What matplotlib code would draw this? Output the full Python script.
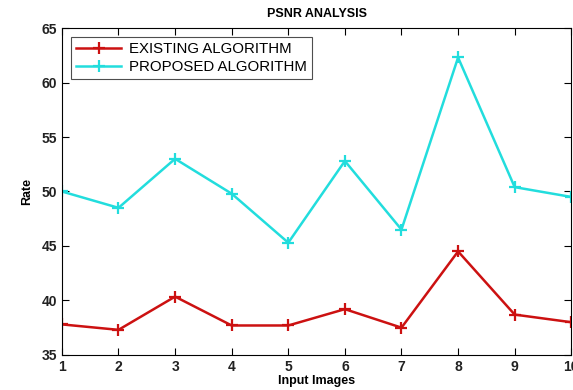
import matplotlib
matplotlib.use('Agg')
import matplotlib.pyplot as plt

plt.rcParams['font.family'] = ['Liberation Sans', 'DejaVu Sans']

images = [1, 2, 3, 4, 5, 6, 7, 8, 9, 10]
existing = [37.8, 37.3, 40.35, 37.7, 37.7, 39.2, 37.5, 44.5, 38.7, 38.0]
proposed = [50.0, 48.5, 53.0, 49.8, 45.3, 52.8, 46.5, 62.3, 50.4, 49.5]
y_ticks = [35, 40, 45, 50, 55, 60, 65]

fig = plt.figure(figsize=(5.73, 3.9), dpi=100)
ax = fig.add_axes([0.108, 0.09, 0.889, 0.838])

ax.plot(images, existing, color='#cc1111', lw=1.8, marker='+', ms=8, mew=1.6,
        label='EXISTING ALGORITHM')
ax.plot(images, proposed, color='#22dddd', lw=1.8, marker='+', ms=8, mew=1.6,
        label='PROPOSED ALGORITHM')

ax.set_xlim(1, 10)
ax.set_ylim(35, 65)
ax.set_xticks(images)
ax.set_yticks(y_ticks)
ax.tick_params(direction='in', top=True, right=True, length=5, labelsize=10)
for lbl in ax.get_xticklabels() + ax.get_yticklabels():
    lbl.set_fontweight('bold')
    lbl.set_color('#222222')

ax.set_title('PSNR ANALYSIS', fontsize=9, fontweight='bold', pad=8)
ax.set_xlabel('Input Images', fontsize=9, fontweight='bold', labelpad=1)
ax.set_ylabel('Rate', fontsize=9, fontweight='bold', labelpad=6)

leg = ax.legend(loc='upper left', fontsize=10.8, fancybox=False, edgecolor='#222222',
                handlelength=3.0, handletextpad=0.5, borderaxespad=0.6,
                borderpad=0.35, labelspacing=0.25)
leg.get_frame().set_linewidth(0.8)

fig.savefig('out.png', dpi=100)
